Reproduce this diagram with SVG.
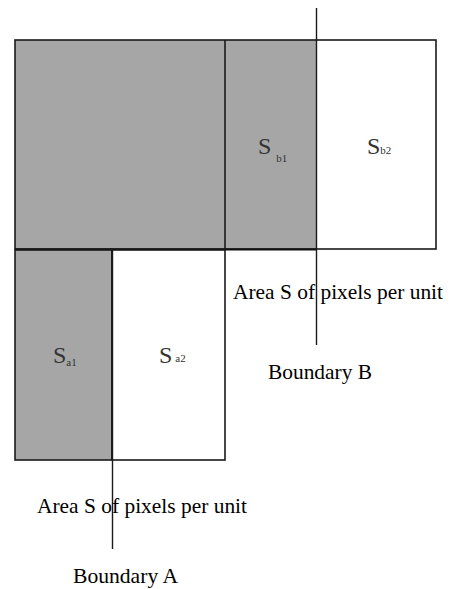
<svg xmlns="http://www.w3.org/2000/svg" width="450" height="589" viewBox="0 0 450 589">
<style>
.g{fill:#a6a6a6}
.w{fill:#fff}
.e{fill:none;stroke:#1a1a1a;stroke-width:1.6}
.b{stroke:#1a1a1a;stroke-width:1.4;fill:none}
text{font-family:'Liberation Serif','DejaVu Serif','Times New Roman',serif}
.t{font-size:21.5px;fill:#000}
.s{font-size:24px;fill:#333}
.sub{font-size:11px}
</style>
<rect width="450" height="589" fill="#fff"/>
<g id="top-block">
<rect class="g" x="15" y="40" width="302" height="209"/>
<rect class="w" x="317" y="40" width="119" height="209"/>
<rect class="e" x="15" y="40" width="421" height="209"/>
<line class="e" x1="225" y1="40" x2="225" y2="249"/>
<line x1="15" y1="249.5" x2="317" y2="249.5" stroke="#111" stroke-width="2.2"/>
</g>
<g id="sb1"><text class="s" x="258" y="154" font-family="Liberation Serif, serif">S<tspan class="sub" dx="5" dy="8">b1</tspan></text></g>
<g id="sb2"><text class="s" x="367" y="154" font-family="Liberation Serif, serif">S<tspan class="sub">b2</tspan></text></g>
<g id="sa1">
<rect class="g" x="15" y="250" width="97" height="210"/>
<rect class="e" x="15" y="250" width="97" height="210" stroke-width="2"/>
<text class="s" x="53" y="363" font-family="Liberation Serif, serif">S<tspan class="sub" dy="3">a1</tspan></text>
</g>
<g id="sa2">
<rect class="w" x="112" y="250" width="113" height="210"/>
<rect class="e" x="112" y="250" width="113" height="210"/>
<text class="s" x="159" y="363" font-family="Liberation Serif, serif">S<tspan class="sub" dx="3" dy="-1">a2</tspan></text>
</g>
<g id="connectors">
<line class="b" x1="316.5" y1="8" x2="316.5" y2="345"/>
<line class="b" x1="112.5" y1="249" x2="112.5" y2="549"/>
</g>
<g id="labels" font-family="Liberation Serif, serif">
<text class="t" x="233" y="299" textLength="210" lengthAdjust="spacingAndGlyphs">Area S of pixels per unit</text>
<text class="t" x="268" y="379" textLength="104" lengthAdjust="spacingAndGlyphs">Boundary B</text>
<text class="t" x="37" y="513" textLength="210" lengthAdjust="spacingAndGlyphs">Area S of pixels per unit</text>
<text class="t" x="73" y="583" textLength="105" lengthAdjust="spacingAndGlyphs">Boundary A</text>
</g>
</svg>
